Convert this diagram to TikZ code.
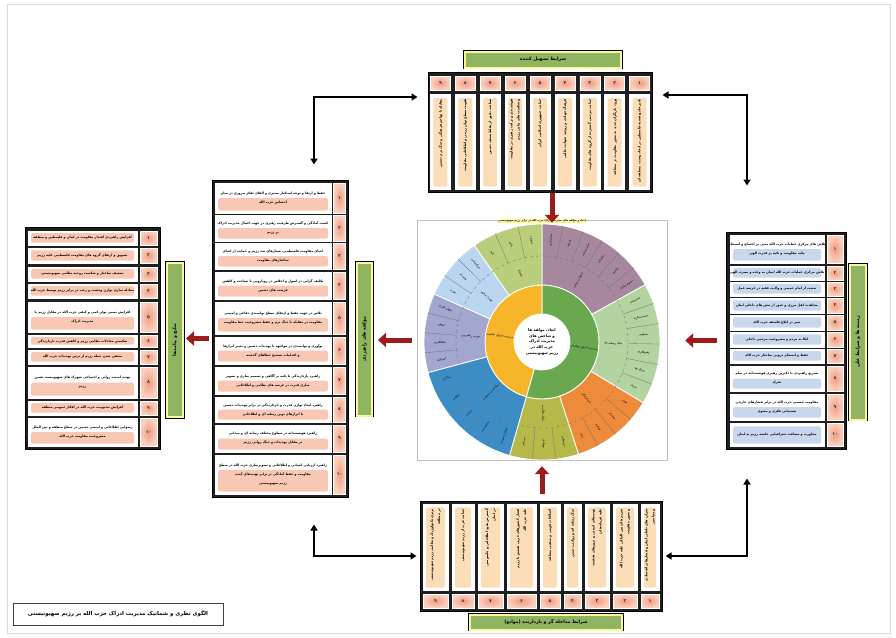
\documentclass[tikz,border=0pt]{standalone}
\usepackage{fontspec}
\usetikzlibrary{arrows.meta,calc}
\TeXXeTstate=1
\newfontfamily\fa[Script=Arabic]{DejaVu Sans}
\newcommand{\rl}[1]{\beginR#1\endR}
\newcommand{\ringpart}[5]{%
  \fill[#1, draw=white, line width=0.8pt] (#2:#4) arc[start angle=#2, end angle=#3, radius=#4]
    -- (#3:#5) arc[start angle=#3, end angle=#2, radius=#5] -- cycle;}

\definecolor{tgreen}{HTML}{8FB462}
\definecolor{tyellow}{HTML}{FFF59A}
\definecolor{numsal}{HTML}{F09C80}
\definecolor{numlite}{HTML}{FAD2C2}
\definecolor{creamband}{HTML}{FBDDB8}
\definecolor{pinkband}{HTML}{F8C8B4}
\definecolor{blueband}{HTML}{C8D7EC}
\definecolor{arrowred}{HTML}{9E1B1B}
\definecolor{mauve}{HTML}{A7879E}
\definecolor{palegreen}{HTML}{B3D3A0}
\definecolor{sunorange}{HTML}{EE8B3A}
\definecolor{olivey}{HTML}{B7B84A}
\definecolor{steelblue}{HTML}{3C8DC5}
\definecolor{lavender}{HTML}{A3A6CF}
\definecolor{skyblue}{HTML}{B9D5EF}
\definecolor{lightolive}{HTML}{BACD7A}
\definecolor{ringgreen}{HTML}{6AA84F}
\definecolor{ringamber}{HTML}{F7B52A}

\tikzset{
  tabframe/.style={fill=black!88, draw=black, line width=1pt, inner sep=0pt},
  numcell/.style={draw=white, line width=0.5pt, inner color=numsal, outer color=numlite, inner sep=0pt,
    text=black!80, font=\fa\bfseries\fontsize{4.5}{5}\selectfont},
  txtcell/.style={draw=white, line width=0.5pt, fill=white, inner sep=0pt},
  cellband/.style 2 args={path picture={\fill[#1, rounded corners=1.5pt]
      ([shift={(3pt,2.5pt)}]path picture bounding box.south west) rectangle
      ([xshift=-3pt]$(path picture bounding box.south east)!#2!(path picture bounding box.north east)$);}},
  celltext/.style={font=\fa\bfseries\fontsize{3.25}{9}\selectfont, align=center, inner sep=0pt},
  vtext/.style={font=\fa\bfseries\fontsize{3.3}{7}\selectfont, align=right, inner sep=0pt, rotate=90, anchor=east},
  titlebox/.style={fill=tgreen, draw=tyellow, line width=2pt, preaction={draw=black, line width=3.6pt},
    inner sep=0pt, font=\fa\bfseries\fontsize{4.6}{5}\selectfont},
  redarrow/.style={draw=arrowred, line width=5pt, -{Triangle[length=8pt, width=14pt]}},
  conn/.style={draw=black, line width=1.7pt, {Triangle[length=6pt, width=7pt]}-{Triangle[length=6pt, width=7pt]}},
  spoke/.style={draw=black!55, line width=0.3pt},
  sunlabel/.style={font=\fa\bfseries\fontsize{2.6}{3.2}\selectfont, inner sep=0pt, text=black!85, align=center}
}

\begin{document}
\begin{tikzpicture}[x=1pt, y=-1pt]
\useasboundingbox (0,0) rectangle (896,637);
\fill[white] (0,0) rectangle (896,637);
\draw[black!15, line width=0.6pt] (7,4) rectangle (890,633);

% top: facilitating conditions
\node[titlebox, minimum width=156pt, minimum height=16pt] (toptitle) at (543,59.5) {\rl{شرایط تسهیل کننده}};
\node[tabframe, minimum width=224pt, minimum height=120pt] (toptab) at (540,132) {};
\foreach \i/\nm/\txt in {
  1/۱/{\rl{تاثیر جامع قضیه فلسطین در ایجاد وحدت منطقه ای}},
  2/۲/{\rl{ورود بازیگران جدید به محور مقاومت در منطقه}},
  3/۳/{\rl{حمایت مردمی گسترده از گروه های مقاومت}},
  4/۴/{\rl{فرهنگ جهادی و روحیه شهادت طلبی}},
  5/۵/{\rl{حمایت جمهوری اسلامی ایران}},
  6/۶/{\rl{هوشمندی و درایت رهبری در مقاومت}\\\rl{و شکست های پیاپی رژیم}},
  7/۷/{\rl{شناخت دقیق از نقاط ضعف دشمن}},
  8/۸/{\rl{تقویت سطح توان رزمی و اطلاعاتی مقاومت}},
  9/۹/{\rl{مقابله با تهاجم فرهنگی و جنگ نرم دشمن}}}{
  \pgfmathsetmacro{\cx}{652-(\i-0.5)*24.89}
  \node[numcell, minimum width=20pt, minimum height=14pt] (tn\i) at (\cx,83) {\nm};
  \node[txtcell, cellband={creamband}{0.96}, minimum width=20pt, minimum height=95pt] (tt\i) at (\cx,141.5) {};
  \node[vtext] at ([yshift=-5pt]tt\i.north) {\txt};
}

% bottom: intervening conditions
\node[tabframe, minimum width=242pt, minimum height=110pt] (bottab) at (541,556) {};
\foreach \i/\nm/\xa/\xb/\txt in {
  1/۱/639/661/{\rl{بحران های داخلی لبنان و فشارهای اقتصادی}\\\rl{و سیاسی}},
  2/۲/611/639/{\rl{تحریم های بین المللی علیه حزب الله}\\\rl{و محور مقاومت}},
  3/۳/583/611/{\rl{تهدیدهای امنیتی و ترورهای هدفمند}\\\rl{علیه فرماندهان}},
  4/۴/562/583/{\rl{جنگ رسانه ای و روانی دشمن}},
  5/۵/538/562/{\rl{اختلافات قومی و مذهبی منطقه}},
  6/۶/505/538/{\rl{فشار کشورهای عربی همسو با رژیم}\\\rl{علیه حزب الله}},
  7/۷/476/505/{\rl{گسترش نفوذ اطلاعاتی و جاسوسی}\\\rl{در لبنان}},
  8/۸/450/476/{\rl{حمایت غرب از رژیم صهیونیستی}},
  9/۹/421/450/{\rl{برتری تکنولوژیک و نظامی رژیم صهیونیستی}\\\rl{در منطقه}}}{
  \pgfmathsetmacro{\cx}{(\xa+\xb)/2}
  \pgfmathsetmacro{\cw}{\xb-\xa-4}
  \node[numcell, minimum width=\cw pt, minimum height=14pt] (bn\i) at (\cx,601) {\nm};
  \node[txtcell, cellband={creamband}{0.96}, minimum width=\cw pt, minimum height=86pt] (bt\i) at (\cx,547) {};
  \node[vtext] at ([yshift=-5pt]bt\i.north) {\txt};
}
\node[titlebox, minimum width=152pt, minimum height=15pt] (bottitle) at (546,622) {\rl{شرایط مداخله گر و بازدارنده (موانع)}};

% right: causal conditions
\node[tabframe, minimum width=120pt, minimum height=217pt] (righttab) at (786,340.5) {};
\foreach \i/\nm/\ya/\yb/\fr/\txt in {
  1/۱/235/263/0.5/{\rl{تلاش های مرکزی عملیات حزب الله مبنی بر اجتماع و انسجام}\\\rl{ملت مقاومت و تکیه بر قدرت الهی}},
  2/۲/266/280/0.85/{\rl{تلاش مرکزی عملیات حزب الله ایمان به وعده و نصرت الهی}},
  3/۳/282/296/0.85/{\rl{تبعیت از امام خمینی و ولایت فقیه در عرصه عمل}},
  4/۴/298/313/0.85/{\rl{مجاهدت اهل مرزی و عبور از تنش های داخلی لبنان}},
  5/۵/315/330/0.85/{\rl{صبر در ابلاغ فلسفه حزب الله}},
  6/۶/332/347/0.85/{\rl{اتکا به مردم و مشروعیت مردمی داخلی}},
  7/۷/349/363/0.85/{\rl{حفظ و انسجام درونی ساختار حزب الله}},
  8/۸/366/391/0.5/{\rl{تسریع راهبردی با دکترین رهبری هوشمندانه در تمام}\\\rl{تحرک}},
  9/۹/394/420/0.5/{\rl{مقاومت جسمی حزب الله در برابر فشارهای خارجی}\\\rl{پشتیبانی فکری و معنوی}},
  10/۱۰/423/446/0.85/{\rl{مجاورت و مسافت جغرافیایی جامعه رژیم به لبنان}}}{
  \pgfmathsetmacro{\cy}{(\ya+\yb)/2}
  \pgfmathsetmacro{\ch}{\yb-\ya}
  \node[numcell, minimum width=16pt, minimum height=\ch pt] (rn\i) at (835,\cy) {\nm};
  \node[txtcell, cellband={blueband}{\fr}, minimum width=94pt, minimum height=\ch pt] (rt\i) at (777,\cy) {};
  \node[celltext] at (rt\i) {\txt};
}
\node[titlebox, rotate=90, minimum width=155pt, minimum height=16pt] (righttitle) at (858,342) {\rl{زمینه ها و شرایط علی}};

% middle left: strategic components
\node[tabframe, minimum width=136pt, minimum height=317pt] (midtab) at (280,338.5) {};
\foreach \i/\nm/\ya/\yb/\fr/\txt in {
  1/۱/183/213/0.5/{\rl{حفظ و ارتقا و توجه استکبار ستیزی و القای تفکر پیروزی در میان}\\\rl{احساس حزب الله}},
  2/۲/215/241/0.5/{\rl{کسب آمادگی و گسترش ظرفیت رهبری در جهت اعمال مدیریت ادراک}\\\rl{بر رژیم}},
  3/۳/243/269/0.5/{\rl{احیای مقاومت فلسطینی، شعارهای ضد رژیم و حمایت از احیای}\\\rl{ساختارهای مقاومت}},
  4/۴/272/299/0.5/{\rl{تکلیف گرایی در اصول و اخلاص در رویارویی با شناخت و کاهش}\\\rl{فرصت های دشمن}},
  5/۵/302/334/0.5/{\rl{تلاش در جهت حفظ و ارتقای سطح توانمندی دفاعی و امنیتی}\\\rl{مقاومت در مقابله با جنگ نرم و حفظ مشروعیت خط مقاومت}},
  6/۶/337/364/0.5/{\rl{نوآوری و توانمندی در مواجهه با تهدیدات دشمن و تغییر ابزارها}\\\rl{و اقدامات تصحیح خطاهای گذشته}},
  7/۷/367/394/0.5/{\rl{راهبرد بازدارندگی با تکیه بر آگاهی و تصمیم سازی و تصویر}\\\rl{سازی قدرت در عرصه های نظامی و اطلاعاتی}},
  8/۸/397/422/0.5/{\rl{راهبرد ایجاد توازن قدرت و بازدارندگی در برابر تهدیدات دشمن}\\\rl{با ابزارهای نوین رسانه ای و اطلاعاتی}},
  9/۹/425/452/0.5/{\rl{راهبرد هوشمندانه در سطوح مختلف رسانه ای و میدانی}\\\rl{در مقابل تهدیدات و جنگ روانی رژیم}},
  10/۱۰/455/494/0.62/{\rl{راهبرد ارزیابی انسانی و اطلاعاتی و تصویرسازی حزب الله در سطح}\\\rl{مقاومت و حفظ آمادگی در برابر تهدیدهای آینده}\\\rl{رژیم صهیونیستی}}}{
  \pgfmathsetmacro{\cy}{(\ya+\yb)/2}
  \pgfmathsetmacro{\ch}{\yb-\ya}
  \node[numcell, minimum width=12pt, minimum height=\ch pt] (mn\i) at (339.5,\cy) {\nm};
  \node[txtcell, cellband={pinkband}{\fr}, minimum width=116pt, minimum height=\ch pt] (mt\i) at (273,\cy) {};
  \node[celltext] at (mt\i) {\txt};
}
\node[titlebox, rotate=90, minimum width=153pt, minimum height=15pt] (midtitle) at (364.5,339) {\rl{مؤلفه های راهبردی}};

% left: outcomes
\node[tabframe, minimum width=135pt, minimum height=222pt] (lefttab) at (92.5,338) {};
\foreach \i/\nm/\ya/\yb/\fr/\txt in {
  1/۱/231/245/0.85/{\rl{افزایش راهبردی اقتدار مقاومت در لبنان و فلسطین و منطقه}},
  2/۲/248/263/0.85/{\rl{تشویق و ارتقای گروه های مقاومت فلسطینی علیه رژیم}},
  3/۳/267/281/0.85/{\rl{تضعیف ساختار و شکست روحیه نظامی صهیونیستی}},
  4/۴/284/298/0.85/{\rl{معادله سازی توازن وحشت و رعب در برابر رژیم توسط حزب الله}},
  5/۵/302/332/0.5/{\rl{افزایش نسبی توان کمی و کیفی حزب الله در مقابل رژیم با}\\\rl{مدیریت ادراک}},
  6/۶/335/347/0.85/{\rl{شکستن معادلات نظامی رژیم و کاهش قدرت بازدارندگی}},
  7/۷/350/364/0.85/{\rl{منتفی شدن حمله رژیم از ترس تهدیدات حزب الله}},
  8/۸/367/398/0.5/{\rl{تهدید امنیت روانی و اجتماعی شهرک های صهیونیست نشین}\\\rl{رژیم}},
  9/۹/401/415/0.85/{\rl{افزایش محبوبیت حزب الله در افکار عمومی منطقه}},
  10/۱۰/418/446/0.5/{\rl{رسوایی اطلاعاتی و امنیتی دشمن در سطح منطقه و بین الملل}\\\rl{مشروعیت مقاومت حزب الله}}}{
  \pgfmathsetmacro{\cy}{(\ya+\yb)/2}
  \pgfmathsetmacro{\ch}{\yb-\ya}
  \node[numcell, minimum width=17pt, minimum height=\ch pt] (ln\i) at (148.5,\cy) {\nm};
  \node[txtcell, cellband={pinkband}{\fr}, minimum width=109pt, minimum height=\ch pt] (lt\i) at (82.5,\cy) {};
  \node[celltext] at (lt\i) {\txt};
}
\node[titlebox, rotate=90, minimum width=154pt, minimum height=16pt] (lefttitle) at (175,340) {\rl{نتایج و پیامدها}};

% centre: sunburst of dimensions
\node[draw=black!25, line width=0.4pt, minimum width=250pt, minimum height=240pt] (chart) at (542,340) {};
\node[fill=tyellow, inner sep=0.6pt, font=\fa\bfseries\fontsize{2.6}{3}\selectfont] (charttitle) at (542,221)
  {\rl{ابعاد و مؤلفه های مدیریت ادراک حزب الله در برابر رژیم صهیونیستی}};
\begin{scope}[shift={(542,342)}, y=1pt]
  \ringpart{ringgreen}{90}{-106}{28}{57}
  \ringpart{ringamber}{90}{254}{28}{57}
  \ringpart{mauve}{29}{90}{57}{118}
  \ringpart{palegreen}{-31}{29}{57}{118}
  \ringpart{sunorange}{-72}{-31}{57}{118}
  \ringpart{olivey}{-106}{-72}{57}{118}
  \ringpart{steelblue}{195}{254}{57}{118}
  \ringpart{lavender}{156}{195}{57}{118}
  \ringpart{skyblue}{125}{156}{57}{118}
  \ringpart{lightolive}{90}{125}{57}{118}
  \draw[spoke, dashed] (0,0) circle[radius=86];
  \foreach \a in {39.2,49.3,59.5,69.7,79.8,-21,-11,-1,9,19,-61.75,-51.5,-41.25,-94.67,-83.33,
                  206.8,218.6,230.4,242.2,165.75,175.5,185.25,135.33,145.67,101.67,113.33}
    \draw[spoke] (\a:86) -- (\a:118);
  \foreach \a/\t in {59.5/عملیات روانی, -1/جنگ رسانه ای, -51.5/بازدارندگی, -89/توان نظامی,
                     224.5/دیپلماسی عمومی, 175.5/فریب راهبردی, 140.5/تهدید سازی, 107.5/اقناع}{
    \pgfmathsetmacro{\rot}{cos(\a)>=0 ? \a : \a-180}
    \node[sunlabel, rotate=\rot] at (\a:71.5) {\rl{\t}};
  }
  \foreach \a/\t in {34/تصویرسازی, 44/شایعه, 54.5/تبلیغات, 64.5/پیام رسانی, 74.5/ارعاب, 85/نمادسازی,
                     -26/اخبار, -16/شبکه ها, -6/افشاگری, 4/تصاویر, 14/مستندسازی, 24/سخنرانی,
                     -36/تهدید, -46.5/هشدار, -56.5/موازنه, -67/رعب,
                     -77.7/موشکی, -89/پهپادی, -100.3/میدانی,
                     200.9/مذاکره, 212.7/ائتلاف, 224.5/حمایت, 236.3/مشروعیت, 248.1/افکار عمومی,
                     160.9/پنهان کاری, 170.6/ابهام, 180.4/غافلگیری, 190.1/انحراف,
                     130.2/بزرگنمایی, 140.5/هشدار, 150.8/تهدید,
                     95.8/اعتماد, 107.5/باور, 119.2/امید}{
    \pgfmathsetmacro{\rot}{cos(\a)>=0 ? \a : \a-180}
    \node[sunlabel, rotate=\rot] at (\a:102) {\rl{\t}};
  }
  \node[sunlabel, rotate=-8] at (-8:42.5) {\rl{مدیریت ادراک تهاجمی}};
  \node[sunlabel, rotate=-8] at (172:42.5) {\rl{مدیریت ادراک تدافعی}};
  \node[font=\fa\bfseries\fontsize{3.8}{5.6}\selectfont, align=center, inner sep=0pt] (core) at (0,0)
    {\rl{ابعاد، مولفه ها}\\\rl{و شاخص های}\\\rl{مدیریت ادراک}\\\rl{حزب الله در}\\\rl{رژیم صهیونیستی}};
\end{scope}

% caption
\node[draw=black!75, line width=0.7pt, fill=white, minimum width=210pt, minimum height=22pt,
  font=\fa\bfseries\fontsize{5.4}{6}\selectfont] (caption) at (118,614)
  {\rl{الگوی نظری و شماتیک مدیریت ادراک حزب الله بر رژیم صهیونیستی}};

% flow arrows
\draw[redarrow, shorten >=-3pt] ([xshift=12pt]toptab.south) -- ([xshift=10pt]chart.north);
\draw[redarrow, shorten <=7pt, shorten >=6pt] ([xshift=1pt]bottab.north) -- (chart.south);
\draw[redarrow, shorten <=9pt, shorten >=18pt] (righttab.west) -- (righttab.west -| chart.east);
\draw[redarrow, shorten <=5pt, shorten >=5pt] (chart.west) -- (chart.west -| midtitle.south);
\draw[redarrow, shorten <=3pt, shorten >=2pt] (midtab.west) -- (midtab.west -| lefttitle.south);

% feedback links
\draw[conn, shorten <=10pt, shorten >=15pt] ([yshift=35pt]toptab.west) -| ([xshift=34pt]midtab.north);
\draw[conn, shorten <=10pt, shorten >=46pt] ([yshift=37pt]toptab.east) -| ([xshift=-39pt]righttab.north);
\draw[conn, shorten <=3pt, shorten >=29pt] (bottab.east) -| ([xshift=-39pt]righttab.south);
\draw[conn, shorten <=3pt, shorten >=27pt] (bottab.west) -| ([xshift=34pt]midtab.south);
\end{tikzpicture}
\end{document}
